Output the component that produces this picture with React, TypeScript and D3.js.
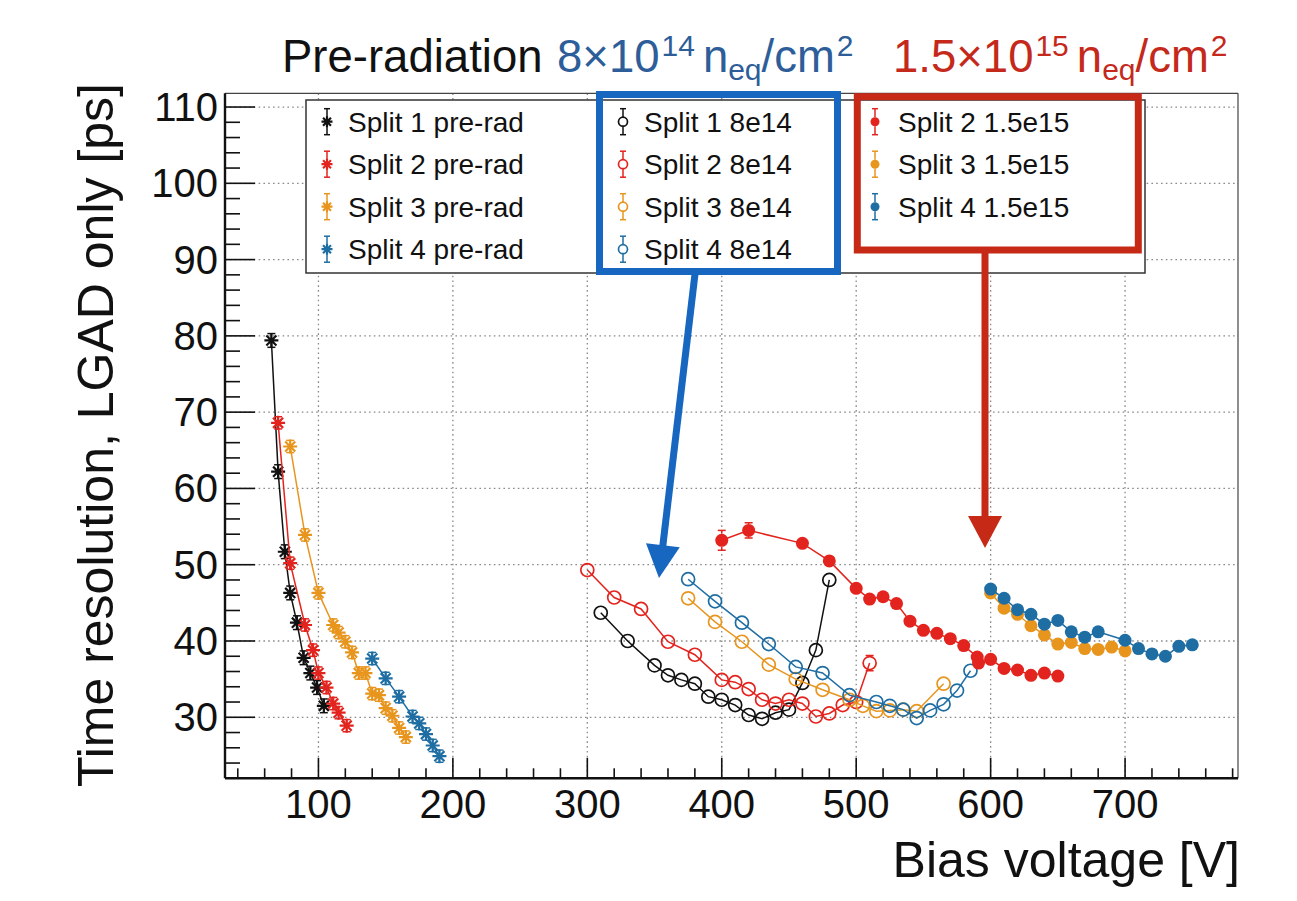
import React from 'react';
import * as d3 from 'd3';

const W = 1297;
const H = 901;

// Axis ranges and ticks
const X_DOMAIN = [30.5, 784];
const Y_DOMAIN = [22, 111.8];
const X_MAJOR = [100, 200, 300, 400, 500, 600, 700];
const Y_MAJOR = [30, 40, 50, 60, 70, 80, 90, 100, 110];

// Pre-radiation
const pre1V = [65, 70, 75, 79, 84, 89, 94, 99, 104];
const pre1T = [79.4, 62.2, 51.7, 46.3, 42.4, 37.8, 35.8, 33.9, 31.5];
const pre2V = [70, 79, 90, 96, 100, 106, 111, 115, 121];
const pre2T = [68.6, 50.2, 42.1, 38.8, 35.8, 33.9, 31.8, 30.6, 28.9];
const pre3V = [79, 90, 100, 111, 115, 120, 125, 130, 135, 140, 145, 150, 155, 160, 165];
const pre3T = [65.5, 53.9, 46.3, 42.1, 41.1, 39.9, 38.5, 35.8, 35.8, 33.1, 32.9, 31.2, 30.2, 28.6, 27.4];
const pre4V = [140, 150, 160, 170, 175, 180, 185, 190];
const pre4T = [37.7, 35.1, 32.7, 30.1, 29.2, 27.8, 26.3, 24.9];

// 8e14
const m1V = [310, 330, 350, 360, 370, 380, 390, 400, 410, 420, 430, 440, 450, 460, 470, 480];
const m1T = [43.7, 40.0, 36.8, 35.5, 34.9, 34.4, 32.7, 32.3, 31.6, 30.3, 29.8, 30.6, 31.0, 34.5, 38.8, 48.0];
const m2V = [300, 320, 340, 360, 380, 400, 410, 420, 430, 440, 450, 460, 470, 480, 490, 500, 510];
const m2T = [49.3, 45.7, 44.2, 39.9, 38.2, 34.9, 34.6, 33.7, 32.3, 31.8, 32.3, 31.8, 30.1, 30.5, 31.6, 32.0, 37.1];
const m2E = [0.3, 0.3, 0.3, 0.3, 0.3, 0.3, 0.3, 0.3, 0.3, 0.3, 0.3, 0.3, 0.3, 0.3, 0.3, 0.3, 1.0];
const m3V = [375, 395, 415, 435, 455, 475, 495, 505, 515, 525, 535, 545, 565];
const m3T = [45.6, 42.5, 39.9, 36.9, 35.0, 33.6, 32.3, 31.5, 30.8, 30.9, 31.0, 30.8, 34.4];
const m4V = [375, 395, 415, 435, 455, 475, 495, 515, 525, 535, 545, 555, 565, 575, 585];
const m4T = [48.1, 45.2, 42.4, 39.6, 36.6, 35.8, 32.9, 32.0, 31.5, 31.0, 29.9, 30.9, 31.7, 33.5, 36.1];

// 1.5e15
const h2V = [400, 420, 460, 480, 500, 510, 520, 530, 540, 550, 560, 570, 580, 590, 591, 600, 610, 620, 630, 640, 650];
const h2T = [53.2, 54.5, 52.8, 50.5, 46.9, 45.5, 45.8, 44.9, 42.6, 41.4, 41.0, 40.3, 39.4, 37.9, 37.1, 37.6, 36.4, 36.2, 35.5, 35.8, 35.4];
const h2E = [1.3, 1.0, 0.5, 0.4, 0.4, 0.4, 0.4, 0.4, 0.4, 0.3, 0.3, 0.3, 0.3, 0.3, 0.3, 0.3, 0.3, 0.3, 0.3, 0.3, 0.3];
const h3V = [600, 610, 620, 630, 640, 650, 660, 670, 680, 690, 700];
const h3T = [46.3, 44.3, 43.5, 42.0, 40.8, 39.6, 39.8, 39.0, 38.9, 39.2, 38.7];
const h4V = [600, 610, 620, 630, 640, 650, 660, 670, 680, 700, 710, 720, 730, 740, 750];
const h4T = [46.8, 45.6, 44.1, 43.5, 42.2, 42.7, 41.2, 40.5, 41.2, 40.1, 39.0, 38.3, 38.0, 39.3, 39.5];

const BLACK = '#111111';
const RED = '#e3241e';
const ORANGE = '#e8951e';
const BLUE = '#1f6ea3';

type Marker = 'star' | 'open' | 'filled';
interface Series { label: string; v: number[]; t: number[]; e: number[] | number; color: string; marker: Marker; }

const preSeries: Series[] = [
  { label: 'Split 1 pre-rad', v: pre1V, t: pre1T, e: 0.9, color: BLACK, marker: 'star' },
  { label: 'Split 2 pre-rad', v: pre2V, t: pre2T, e: 0.8, color: RED, marker: 'star' },
  { label: 'Split 3 pre-rad', v: pre3V, t: pre3T, e: 0.8, color: ORANGE, marker: 'star' },
  { label: 'Split 4 pre-rad', v: pre4V, t: pre4T, e: 0.8, color: BLUE, marker: 'star' },
];
const midSeries: Series[] = [
  { label: 'Split 1 8e14', v: m1V, t: m1T, e: 0.3, color: BLACK, marker: 'open' },
  { label: 'Split 2 8e14', v: m2V, t: m2T, e: m2E, color: RED, marker: 'open' },
  { label: 'Split 3 8e14', v: m3V, t: m3T, e: 0.3, color: ORANGE, marker: 'open' },
  { label: 'Split 4 8e14', v: m4V, t: m4T, e: 0.3, color: BLUE, marker: 'open' },
];
const highSeries: Series[] = [
  { label: 'Split 2 1.5e15', v: h2V, t: h2T, e: h2E, color: RED, marker: 'filled' },
  { label: 'Split 3 1.5e15', v: h3V, t: h3T, e: 0.3, color: ORANGE, marker: 'filled' },
  { label: 'Split 4 1.5e15', v: h4V, t: h4T, e: 0.3, color: BLUE, marker: 'filled' },
];

const FONT = '"Liberation Sans", Arial, Helvetica, sans-serif';
const L = 225, R = 1238, T = 93.3, B = 778.3;

const x = d3.scaleLinear().domain(X_DOMAIN).range([L, R]);
const y = d3.scaleLinear().domain(Y_DOMAIN).range([B, T]);

function starPath(cx: number, cy: number, s: number) {
  const d = s * 0.72;
  return `M${cx - s},${cy}H${cx + s}M${cx},${cy - s}V${cy + s}M${cx - d},${cy - d}L${cx + d},${cy + d}M${cx - d},${cy + d}L${cx + d},${cy - d}`;
}

function MarkerGlyph({ cx, cy, m, color, size }: { cx: number; cy: number; m: Marker; color: string; size: number }) {
  if (m === 'star') return <path d={starPath(cx, cy, size)} stroke={color} strokeWidth={2.2} fill="none" />;
  if (m === 'open') return <circle cx={cx} cy={cy} r={size} stroke={color} strokeWidth={1.7} fill="none" />;
  return <circle cx={cx} cy={cy} r={size} fill={color} stroke="none" />;
}

function ErrBar({ cx, cy, y1, y2, gap, color, cap }: { cx: number; cy: number; y1: number; y2: number; gap: number; color: string; cap: number }) {
  // y1 = lower value (greater pixel), y2 = upper value (smaller pixel)
  const parts = [];
  if (cy - y2 > gap) {
    parts.push(<line key="u" x1={cx} x2={cx} y1={y2} y2={cy - gap} />);
    parts.push(<line key="uc" x1={cx - cap} x2={cx + cap} y1={y2} y2={y2} />);
  }
  if (y1 - cy > gap) {
    parts.push(<line key="d" x1={cx} x2={cx} y1={cy + gap} y2={y1} />);
    parts.push(<line key="dc" x1={cx - cap} x2={cx + cap} y1={y1} y2={y1} />);
  }
  return <g stroke={color} strokeWidth={1.5}>{parts}</g>;
}

function SeriesG({ s }: { s: Series }) {
  const line = d3.line<number>().x((_, i) => x(s.v[i])).y((d) => y(d));
  const size = s.marker === 'star' ? 7 : 6.5;
  return (
    <g>
      <path d={line(s.t) || ''} stroke={s.color} strokeWidth={1.5} fill="none" />
      {s.t.map((t, i) => {
        const e = Array.isArray(s.e) ? s.e[i] : s.e;
        return <ErrBar key={'e' + i} cx={x(s.v[i])} cy={y(t)} y1={y(t - e)} y2={y(t + e)} gap={s.marker === 'star' ? 3 : size} color={s.color} cap={4} />;
      })}
      {s.t.map((t, i) => (
        <MarkerGlyph key={'m' + i} cx={x(s.v[i])} cy={y(t)} m={s.marker} color={s.color} size={size} />
      ))}
    </g>
  );
}

function LegendEntry({ s, lx, ly, tx }: { s: Series; lx: number; ly: number; tx: number }) {
  const r = s.marker === 'star' ? 5.5 : 4.5;
  return (
    <g>
      <ErrBar cx={lx} cy={ly} y1={ly + 13} y2={ly - 13} gap={s.marker === 'star' ? 2 : r} color={s.color} cap={3} />
      <MarkerGlyph cx={lx} cy={ly} m={s.marker} color={s.color} size={r} />
      <text x={tx} y={ly + 10} fontSize={28} fill="#111" fontFamily={FONT}>{s.label}</text>
    </g>
  );
}

function Arrow({ x1, y1, x2, y2, color, headLen, headHalf, width }: { x1: number; y1: number; x2: number; y2: number; color: string; headLen: number; headHalf: number; width: number }) {
  const dx = x2 - x1, dy = y2 - y1;
  const len = Math.hypot(dx, dy);
  const ux = dx / len, uy = dy / len;
  const bx = x2 - ux * headLen, by = y2 - uy * headLen;
  const px = -uy, py = ux;
  return (
    <g>
      <line x1={x1} y1={y1} x2={bx + ux * 2} y2={by + uy * 2} stroke={color} strokeWidth={width} />
      <polygon points={`${x2},${y2} ${bx + px * headHalf},${by + py * headHalf} ${bx - px * headHalf},${by - py * headHalf}`} fill={color} />
    </g>
  );
}

export default function App() {
  const xMinor = d3.range(40, 784, 20);
  const yMinor = d3.range(24, 111.8, 2);
  const rows = [121.7, 164.2, 206.7, 249.2];
  const allSeries = [...preSeries, ...midSeries, ...highSeries];
  return (
    <div style={{ position: 'absolute', left: 0, top: 0 }}>
      <svg width={W} height={H} viewBox={`0 0 ${W} ${H}`} style={{ display: 'block', background: 'white' }}>
        <rect x={0} y={0} width={W} height={H} fill="white" />
        {/* grid */}
        <g stroke="#8a8a8a" strokeWidth={1.3} strokeDasharray="1.6,3.2">
          {X_MAJOR.map((v) => <line key={'gx' + v} x1={x(v)} x2={x(v)} y1={T} y2={B} />)}
          {Y_MAJOR.map((v) => <line key={'gy' + v} x1={L} x2={R} y1={y(v)} y2={y(v)} />)}
        </g>
        {/* legend box */}
        <rect x={306} y={100} width={839} height={173} fill="white" stroke="#333" strokeWidth={1.5} />
        {preSeries.map((s, i) => <LegendEntry key={s.label} s={s} lx={327} ly={rows[i]} tx={348} />)}
        {midSeries.map((s, i) => <LegendEntry key={s.label} s={s} lx={623} ly={rows[i]} tx={644} />)}
        {highSeries.map((s, i) => <LegendEntry key={s.label} s={s} lx={875} ly={rows[i]} tx={898} />)}
        {/* data */}
        {allSeries.map((s) => <SeriesG key={s.label} s={s} />)}
        {/* frame */}
        <line x1={L} x2={R} y1={T} y2={T} stroke="#444" strokeWidth={1.2} />
        <line x1={R} x2={R} y1={T} y2={B} stroke="#444" strokeWidth={1.2} />
        <line x1={L} x2={R} y1={B} y2={B} stroke="#111" strokeWidth={2.4} />
        <line x1={L} x2={L} y1={T} y2={B} stroke="#111" strokeWidth={2.4} />
        <g stroke="#111" strokeWidth={1.6}>
          {xMinor.map((v) => <line key={'xm' + v} x1={x(v)} x2={x(v)} y1={B} y2={B - (v % 100 === 0 ? 20.5 : 10)} />)}
          {yMinor.map((v) => <line key={'ym' + v} x1={L} x2={L + (Math.abs(v % 10) < 1e-6 ? 30 : 15)} y1={y(v)} y2={y(v)} />)}
        </g>
        {X_MAJOR.map((v) => (
          <text key={'xl' + v} x={x(v)} y={818} fontSize={40} textAnchor="middle" fontFamily={FONT} fill="#111">{v}</text>
        ))}
        {Y_MAJOR.map((v) => (
          <text key={'yl' + v} x={218} y={y(v) + 14} fontSize={40} textAnchor="end" fontFamily={FONT} fill="#111">{v}</text>
        ))}
        <text x={1240} y={877} fontSize={50} textAnchor="end" fontFamily={FONT} fill="#111">Bias voltage [V]</text>
        <text transform="translate(113,435) rotate(-90)" fontSize={50} textAnchor="middle" fontFamily={FONT} fill="#111">Time resolution, LGAD only [ps]</text>
        {/* annotation boxes */}
        <rect x={599.5} y={94.5} width={238} height={177} fill="none" stroke="#1766c0" strokeWidth={7} />
        <Arrow x1={695} y1={274} x2={659} y2={578} color="#1766c0" headLen={33} headHalf={17} width={7} />
        <rect x={857.3} y={96.7} width={281} height={153.3} fill="none" stroke="#c62a17" strokeWidth={7} />
        <Arrow x1={985} y1={250} x2={985} y2={548} color="#c62a17" headLen={32} headHalf={17} width={7} />
        {/* title */}
        <text x={282} y={72} fontSize={45.5} fontFamily={FONT} fill="#111">Pre-radiation</text>
        <text x={557} y={72} fontSize={45.5} fontFamily={FONT} fill="#2d5e99">
          8×10<tspan fontSize={30} dx={2} dy={-16}>14</tspan>
          <tspan dy={16} dx={8}>n</tspan><tspan fontSize={30} dy={8}>eq</tspan>
          <tspan dy={-8}>/cm</tspan><tspan fontSize={30} dx={2} dy={-16}>2</tspan>
        </text>
        <text x={893} y={72} fontSize={45.5} fontFamily={FONT} fill="#c4291b">
          1.5×10<tspan fontSize={30} dx={2} dy={-16}>15</tspan>
          <tspan dy={16} dx={8}>n</tspan><tspan fontSize={30} dy={8}>eq</tspan>
          <tspan dy={-8}>/cm</tspan><tspan fontSize={30} dx={2} dy={-16}>2</tspan>
        </text>
      </svg>
    </div>
  );
}
